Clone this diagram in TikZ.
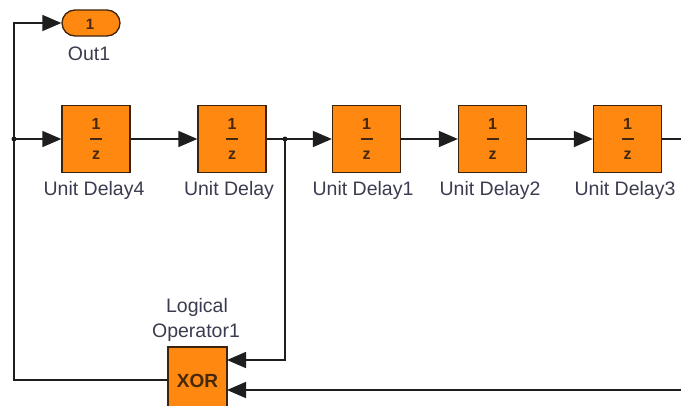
\documentclass[tikz,border=0pt]{standalone}
\usepackage{fontspec}
\setmainfont{Liberation Sans}
\usetikzlibrary{arrows.meta,shapes.misc}
\definecolor{blk}{RGB}{255,136,17}
\definecolor{blkline}{RGB}{60,35,10}
\definecolor{blktext}{RGB}{70,40,10}
\definecolor{lbltext}{RGB}{60,60,80}
\definecolor{wire}{RGB}{30,30,30}
\tikzset{
  delaybox/.style={draw=blkline, line width=1.3pt, fill=blk, minimum width=68pt, minimum height=67pt, inner sep=0pt, text=blktext, font=\fontsize{16}{16.5}\selectfont\bfseries, align=center},
  xorbox/.style={draw=blkline, line width=1.3pt, fill=blk, minimum width=59pt, minimum height=66pt, inner sep=0pt},
  outport/.style={rounded rectangle, draw=blkline, line width=1.3pt, fill=blk, minimum width=58pt, minimum height=26pt, inner sep=0pt},
  lbl/.style={text=lbltext, font=\fontsize{19.5}{24}\selectfont, anchor=base, inner sep=0pt},
  intext/.style={text=blktext, anchor=base, inner sep=0pt},
  wireline/.style={draw=wire, line width=1.6pt},
  sig/.style={wireline, -{Triangle[length=19pt,width=16pt]}},
  jdot/.style={circle, fill=wire, inner sep=0pt, minimum size=5pt}
}
\begin{document}
\begin{tikzpicture}[x=1pt,y=-1pt]
\useasboundingbox (0,0) rectangle (681,405);
\clip (0,0) rectangle (681,405);
\fill[white] (0,0) rectangle (681,405);

% out port
\node[outport] (out1) at (91,23) {};
\node[intext, font=\fontsize{15}{16}\selectfont\bfseries] (out1t) at (90,29) {1};
\node[lbl] (out1l) at (89,60) {Out1};

% unit delays
\newcommand{\fracz}{1\\[-1.5pt]\rule[4.5pt]{12pt}{1.8pt}\\[-1.5pt]z}
\node[delaybox] (d4) at (96,139) {\fracz};
\node[delaybox] (d0) at (232,139) {\fracz};
\node[delaybox] (d1) at (366.5,139) {\fracz};
\node[delaybox] (d2) at (492.5,139) {\fracz};
\node[delaybox] (d3) at (627.5,139) {\fracz};

\node[lbl] (l4) at (94,195) {Unit Delay4};
\node[lbl] (l0) at (229,195) {Unit Delay};
\node[lbl] (l1) at (363,195) {Unit Delay1};
\node[lbl] (l2) at (490,195) {Unit Delay2};
\node[lbl] (l3) at (625,195) {Unit Delay3};

% XOR block
\node[xorbox] (xor) at (197.5,380) {};
\node[intext, font=\fontsize{19}{20}\selectfont\bfseries] (xort) at (197.5,387) {XOR};
\node[lbl] (xl1) at (197,312) {Logical};
\node[lbl] (xl2) at (196,337) {Operator1};

% coordinates
\coordinate (jL) at (14,139);
\coordinate (jM) at (285,139);
\coordinate (rEnd) at (683,139);
\coordinate (rIn) at (683,390);
\coordinate (xin1) at (227,360);
\coordinate (xin2) at (227,390);
\coordinate (xout) at (168,380);
\coordinate (cBL) at (14,380);
\coordinate (cTL) at (14,23);

% wires
\draw[sig] (jL) -- (d4.west);
\draw[sig] (d4.east) -- (d0.west);
\draw[sig] (d0.east) -- (d1.west);
\draw[sig] (d1.east) -- (d2.west);
\draw[sig] (d2.east) -- (d3.west);
\draw[wireline] (d3.east) -- (rEnd);
\draw[sig] (jM) |- (xin1);
\draw[sig] (rIn) -- (xin2);
\draw[sig] (xout) -- (cBL) -- (cTL) -- (out1.west);

\node[jdot] (dotL) at (jL) {};
\node[jdot] (dotM) at (jM) {};
\end{tikzpicture}
\end{document}
